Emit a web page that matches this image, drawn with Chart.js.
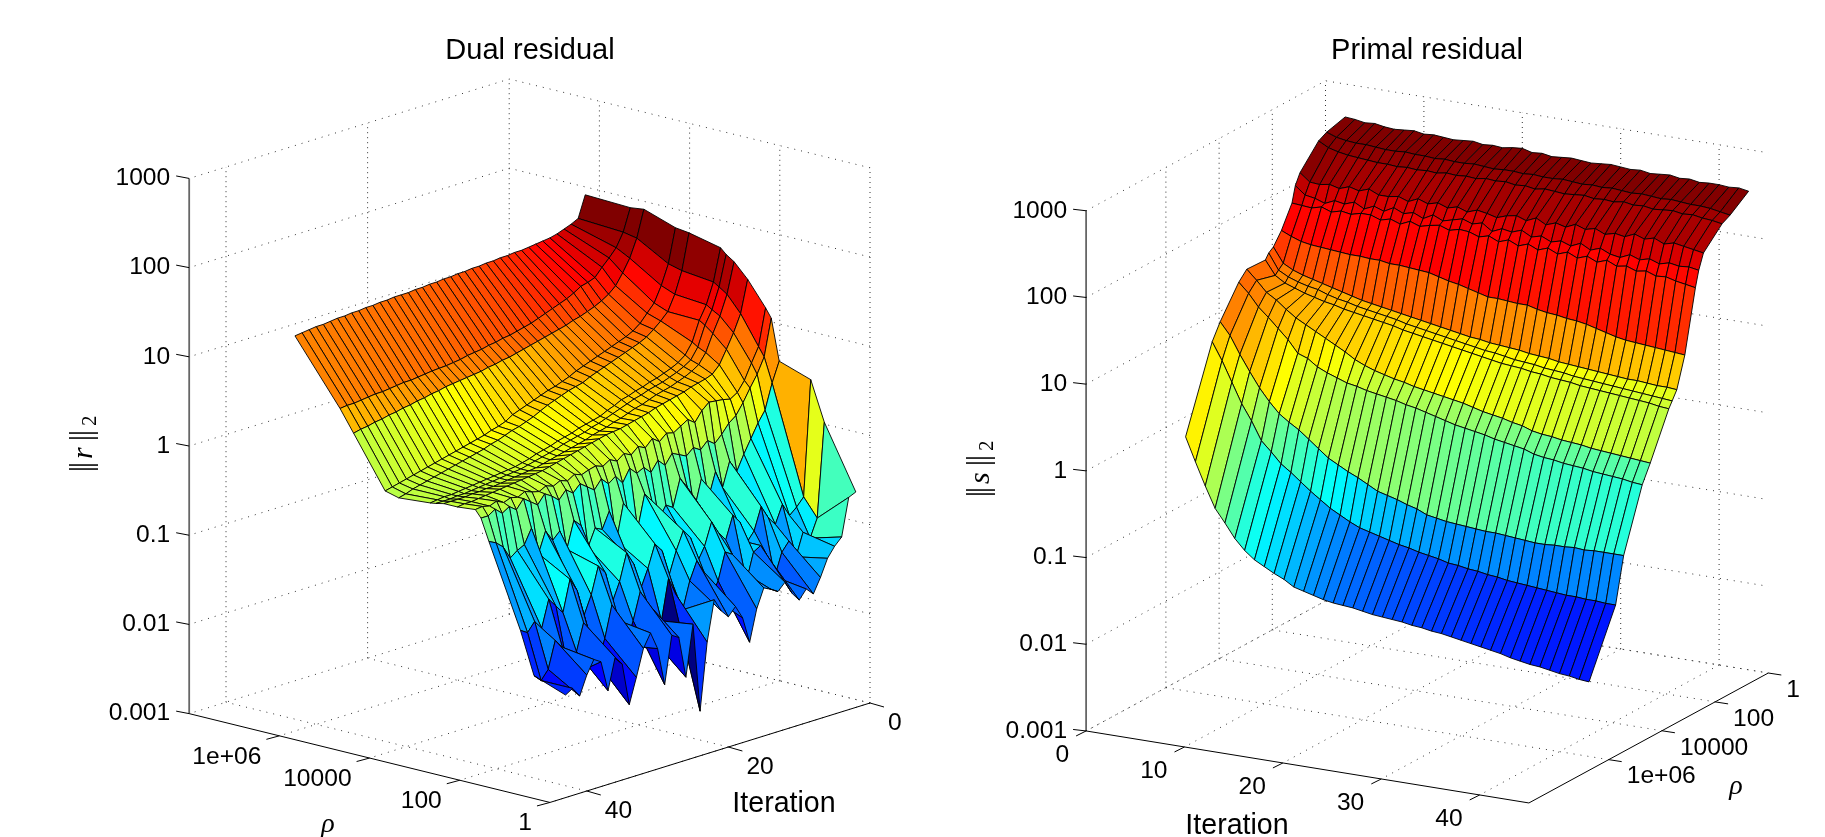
<!DOCTYPE html>
<html>
<head>
<meta charset="utf-8">
<title>Dual and primal residual</title>
<script src="https://cdn.jsdelivr.net/npm/chart.js@4/dist/chart.umd.min.js"></script>
<style>
  html, body { margin: 0; padding: 0; background: #fff; overflow: hidden; width: 1825px; height: 837px; }
  canvas { position: absolute; top: 0; }
</style>
</head>
<body>
<canvas id="dualChart" style="left:0"></canvas>
<canvas id="primalChart" style="left:950px"></canvas>
<script>
// axes
const iterations = [2,3,4,5,6,7,8,9,10,11,12,13,14,15,16,17,18,19,20,21,22,23,24,25,26,27,28,29,30,31,32,33,34,35,36,37,38,39,40,41,42,43];
const rhoValues = [1,5,10,50,75,100,250,500,750,1000,5000,10000,50000,100000,1000000];
const zTicks = [0.001,0.01,0.1,1,10,100,1000];
const zTickLabels = ["0.001","0.01","0.1","1","10","100","1000"];
const rhoTicks = [1,100,10000,1000000];
const rhoTickLabels = ["1","100","10000","1e+06"];
const dualIterTicks = [0,20,40];
const primalIterTicks = [0,10,20,30,40];

// dual residual, log10 of ||r||2, one list per rho, one value per iteration
const dualRho1 = [-.585,-.62,-1.04,-1.12,-1.23,-1.42,-1.58,-1.5,-1.6,-1.5,-1.35,-1.43,-1.38,-1.34,
  -1.55,-1.9,-1.6,-1.45,-1.54,-1.45,-1.3,-1.75,-2.5,-1.5,-2.07,-1.6,-1.55,-2.08,
  -1.65,-1.45,-1.6,-1.9,-2.18,-1.7,-1.6,-1.95,-1.6,-1.55,-1.7,-1.91,-1.8,-1.85];
const dualRho5 = [.11,-.94,-1.14,-1.05,-1.3,-1.1,-1.2,-1.45,-1.2,-1.05,-1.1,-1.4,-1.25,-1.05,
  -1.0,-1.3,-1.45,-1.15,-1.0,-1.2,-1.5,-1.3,-1.1,-1.55,-1.75,-1.3,-1.15,-1.45,
  -1.7,-1.4,-1.2,-1.55,-1.8,-1.5,-1.3,-1.6,-1.85,-1.5,-1.4,-1.7,-1.8,-1.72];
const dualRho10 = [.55,-.74,-.83,-.9,-.75,-.95,-.85,-.7,-.95,-1.05,-.8,-.7,-.95,-.85,
  -.7,-.95,-1.1,-.8,-.7,-.9,-1.15,-.85,-.75,-1.0,-1.2,-.9,-.75,-1.05,
  -1.25,-.9,-.8,-1.1,-1.3,-1.0,-.85,-1.2,-1.1,-1.0,-1.3,-1.2,-1.3,-1.25];
const dualRho50 = [.67,.45,.17,.05,-.1,-.25,-.42,-.28,-.55,-.35,-.62,-.38,-.7,-.42,
  -.3,-.6,-.55,-.68,-.45,-.35,-.72,-.68,-.38,-.78,-.42,-.6,-.56,-.75,
  -.48,-.4,-.7,-.47,-.55,-.42,-.65,-.34,-.5,-.54,-.6,-.45,-.38,-.34];
const dualRho75 = [1.13,.72,.55,.42,.28,.16,.10,.0,-.08,-.02,-.10,-.05,-.12,-.08,
  -.04,-.15,-.07,-.18,-.10,-.14,-.06,-.2,-.1,-.16,-.08,-.18,-.12,-.06,
  -.14,-.08,-.17,-.1,-.05,-.15,-.09,-.03,-.13,-.07,-.12,-.05,-.1,-.1];
const dualRho100 = [1.23,.82,.66,.49,.38,.33,.35,.36,.37,.30,.19,.25,.20,.15,
  .17,.10,.16,.08,.12,.05,.09,.03,.07,.02,.05,.03,.0,.03,
  -.02,.01,-.03,.0,-.04,-.02,.01,-.03,-.01,-.04,.0,-.03,-.01,-.02];
const dualRho250 = [1.50,1.14,.95,.79,.64,.56,.53,.51,.49,.46,.44,.42,.40,.38,
  .35,.33,.31,.29,.27,.26,.25,.23,.21,.19,.17,.15,.13,.11,
  .09,.07,.06,.05,.04,.03,.02,.01,.0,-.01,-.02,-.03,-.03,-.04];
const dualRho500 = [1.66,1.32,1.10,.93,.74,.63,.58,.54,.51,.48,.46,.44,.41,.38,
  .36,.33,.30,.28,.25,.23,.21,.18,.16,.14,.12,.10,.08,.06,
  .04,.03,.02,.01,.0,-.01,-.02,-.02,-.03,-.03,-.04,-.04,-.04,-.04];
const dualRho750 = [1.72,1.38,1.15,1.0,.78,.66,.61,.57,.54,.51,.49,.47,.44,.42,
  .39,.36,.33,.30,.27,.25,.22,.20,.18,.16,.13,.11,.09,.07,
  .05,.03,.02,.01,.0,-.01,-.02,-.03,-.04,-.05,-.05,-.06,-.06,-.06];
const dualRho1000 = [1.78,1.42,1.19,1.04,.82,.70,.64,.60,.57,.54,.52,.49,.47,.44,
  .42,.38,.35,.31,.29,.27,.25,.22,.20,.18,.15,.13,.11,.08,
  .06,.04,.03,.02,.01,.0,-.01,-.02,-.03,-.04,-.05,-.05,-.06,-.07];
const dualRho5000 = [1.86,1.46,1.22,1.05,.97,.90,.84,.80,.77,.74,.71,.68,.65,.62,
  .59,.55,.53,.51,.48,.45,.42,.38,.34,.31,.28,.26,.23,.20,
  .18,.15,.13,.11,.09,.07,.05,.03,.01,-.01,-.03,-.05,-.08,-.10];
const dualRho10000 = [1.88,1.50,1.28,1.11,1.02,.93,.87,.83,.80,.77,.74,.71,.68,.65,
  .62,.58,.55,.52,.50,.47,.44,.41,.38,.35,.30,.27,.25,.22,
  .20,.18,.16,.14,.12,.10,.08,.06,.04,.02,.0,-.02,-.04,-.06];
const dualRho50000 = [2.0,1.70,1.50,1.36,1.24,1.17,1.12,1.08,1.05,1.02,1.0,.97,.95,.93,
  .91,.89,.87,.85,.83,.81,.80,.78,.77,.75,.74,.73,.72,.71,
  .70,.68,.67,.65,.64,.62,.61,.59,.58,.56,.55,.53,.52,.50];
const dualRho1e5 = [1.98,1.73,1.58,1.49,1.41,1.32,1.29,1.27,1.22,1.18,1.15,1.12,1.09,1.06,
  1.03,1.01,.99,.97,.96,.94,.93,.91,.90,.89,.87,.86,.85,.845,
  .84,.83,.82,.81,.81,.80,.79,.78,.78,.77,.76,.75,.75,.74];
const dualRho1e6 = [2.0,1.76,1.72,1.69,1.66,1.64,1.63,1.62,1.61,1.60,1.60,1.59,1.59,1.58,
  1.58,1.57,1.57,1.56,1.56,1.55,1.55,1.54,1.54,1.53,1.53,1.52,1.52,1.52,
  1.51,1.51,1.50,1.50,1.49,1.49,1.48,1.48,1.47,1.46,1.46,1.45,1.44,1.43];

// primal residual, log10 of ||s||2
const primalRho1 = [2.62,2.61,2.59,2.60,2.58,2.57,2.58,2.59,2.57,2.58,2.57,2.56,2.57,2.58,
  2.56,2.57,2.56,2.58,2.59,2.56,2.57,2.55,2.56,2.57,2.56,2.55,2.56,2.57,
  2.56,2.55,2.56,2.54,2.55,2.56,2.54,2.55,2.53,2.54,2.54,2.53,2.54,2.52];
const primalRho5 = [2.56,2.52,2.50,2.49,2.49,2.48,2.47,2.47,2.48,2.47,2.47,2.46,2.47,2.46,
  2.46,2.47,2.46,2.45,2.46,2.46,2.45,2.46,2.45,2.45,2.46,2.45,2.44,2.45,
  2.44,2.45,2.44,2.43,2.44,2.43,2.42,2.43,2.42,2.41,2.41,2.40,2.38,2.36];
const primalRho10 = [2.51,2.45,2.42,2.40,2.39,2.38,2.37,2.37,2.36,2.37,2.36,2.37,2.36,2.38,
  2.37,2.38,2.37,2.39,2.38,2.39,2.37,2.38,2.36,2.38,2.37,2.36,2.37,2.38,
  2.36,2.37,2.36,2.38,2.36,2.37,2.35,2.36,2.37,2.35,2.36,2.34,2.33,2.31];
const primalRho50 = [2.26,2.17,2.16,2.18,2.15,2.19,2.16,2.20,2.15,2.15,2.17,2.13,2.18,2.14,
  2.17,2.13,2.16,2.12,2.16,2.14,2.11,2.15,2.17,2.13,2.18,2.12,2.16,2.13,
  2.18,2.14,2.17,2.12,2.15,2.13,2.18,2.14,2.17,2.12,2.15,2.13,2.11,2.09];
const primalRho75 = [2.14,2.05,2.03,1.99,2.04,2.02,2.06,2.00,2.05,2.01,2.07,2.02,2.05,2.00,
  2.06,2.01,2.04,2.07,2.03,2.06,1.98,2.03,2.01,2.05,1.99,2.02,1.97,2.00,
  1.96,2.01,1.95,1.99,1.94,1.92,1.97,1.93,1.96,1.92,1.95,1.93,1.94,1.92];
const primalRho100 = [1.96,1.95,1.94,1.97,1.93,1.96,1.94,1.97,1.97,1.93,1.96,1.92,1.97,1.93,
  1.96,1.98,1.94,1.97,1.96,1.92,1.95,1.90,1.94,1.89,1.93,1.88,1.92,1.87,
  1.91,1.86,1.90,1.85,1.89,1.84,1.86,1.82,1.84,1.80,1.81,1.78,1.76,1.74];
const primalRho250 = [1.71,1.66,1.62,1.60,1.59,1.58,1.57,1.56,1.56,1.55,1.55,1.53,1.53,1.52,
  1.51,1.50,1.47,1.44,1.42,1.39,1.36,1.33,1.33,1.32,1.31,1.31,1.28,1.26,
  1.25,1.23,1.22,1.20,1.17,1.14,1.11,1.09,1.08,1.07,1.06,1.05,1.04,1.03];
const primalRho500 = [1.57,1.40,1.34,1.30,1.27,1.24,1.21,1.18,1.15,1.12,1.10,1.08,1.06,1.04,
  1.02,1.00,.98,.96,.94,.92,.90,.89,.87,.86,.85,.84,.82,.81,
  .80,.78,.77,.76,.75,.74,.73,.72,.71,.71,.70,.69,.69,.68];
const primalRho750 = [1.53,1.35,1.29,1.25,1.22,1.20,1.16,1.13,1.11,1.08,1.06,1.04,1.02,1.00,
  .97,.95,.93,.91,.89,.87,.85,.83,.81,.80,.78,.76,.75,.74,
  .72,.71,.70,.68,.67,.66,.65,.64,.63,.62,.61,.60,.59,.58];
const primalRho1000 = [1.47,1.31,1.24,1.20,1.16,1.13,1.10,1.08,1.05,1.03,1.01,.99,.97,.95,
  .92,.90,.88,.86,.84,.82,.80,.78,.76,.74,.72,.71,.70,.68,
  .67,.65,.64,.63,.61,.60,.59,.58,.57,.56,.55,.54,.52,.51];
const primalRho5000 = [1.48,1.37,1.25,1.18,1.09,1.01,.95,.89,.83,.77,.71,.64,.59,.55,
  .52,.49,.47,.44,.42,.40,.38,.36,.34,.31,.28,.26,.24,.21,
  .19,.15,.13,.12,.10,.09,.08,.06,.05,.04,.03,.02,.01,.00];
const primalRho10000 = [1.38,1.27,1.13,1.03,.92,.81,.67,.63,.55,.50,.46,.42,.40,.37,
  .35,.33,.31,.28,.26,.23,.20,.17,.14,.12,.10,.08,.05,.03,
  .01,-.01,-.05,-.07,-.08,-.10,-.11,-.12,-.14,-.15,-.16,-.17,-.19,-.20];
const primalRho50000 = [1.04,.90,.70,.52,.35,.21,.09,.01,-.06,-.15,-.24,-.33,-.39,-.45,
  -.50,-.56,-.62,-.65,-.68,-.72,-.75,-.80,-.82,-.84,-.85,-.86,-.87,-.88,
  -.88,-.89,-.90,-.91,-.92,-.92,-.91,-.91,-.90,-.91,-.90,-.90,-.90,-.90];
const primalRho1e5 = [.86,.66,.43,.20,.02,-.19,-.30,-.42,-.50,-.59,-.68,-.76,-.84,-.90,
  -.96,-1.01,-1.04,-1.07,-1.10,-1.13,-1.15,-1.18,-1.20,-1.22,-1.25,-1.26,-1.28,-1.29,
  -1.31,-1.32,-1.34,-1.35,-1.36,-1.37,-1.38,-1.39,-1.40,-1.40,-1.41,-1.41,-1.42,-1.42];
const primalRho1e6 = [-.07,-.34,-.60,-.84,-.99,-1.15,-1.27,-1.36,-1.42,-1.48,-1.53,-1.60,-1.63,-1.66,
  -1.69,-1.71,-1.72,-1.73,-1.75,-1.77,-1.78,-1.79,-1.80,-1.82,-1.83,-1.85,-1.86,-1.88,
  -1.90,-1.92,-1.94,-1.96,-1.98,-2.01,-2.03,-2.05,-2.06,-2.08,-2.10,-2.11,-2.13,-2.14];

const dualRows = [dualRho1,dualRho5,dualRho10,dualRho50,dualRho75,dualRho100,dualRho250,dualRho500,dualRho750,dualRho1000,dualRho5000,dualRho10000,dualRho50000,dualRho1e5,dualRho1e6];
const primalRows = [primalRho1,primalRho5,primalRho10,primalRho50,primalRho75,primalRho100,primalRho250,primalRho500,primalRho750,primalRho1000,primalRho5000,primalRho10000,primalRho50000,primalRho1e5,primalRho1e6];

const SANS = '"Liberation Sans", Arial, sans-serif';
const SERIF = '"Liberation Serif", serif';
const TITLE_H = 65; // title block height, y scale starts under it

// jet colormap
function jet(t) {
  t = Math.min(1, Math.max(0, t));
  const c = v => Math.round(255 * Math.min(1, Math.max(0, 1.5 - Math.abs(4 * t - v))));
  return `rgb(${c(3)},${c(2)},${c(1)})`;
}

// orthographic view of the 3D box, iter / log10(rho) / log10(z) to page pixels
function projector(v) {
  return (iter, r, z) => ({
    x: v.ox + iter * v.ix + r * v.rx,
    y: v.oy + iter * v.iy + r * v.ry - (z + 3) * v.zy
  });
}

function lineSet(points, color, width, dash) {
  return {
    data: points,
    borderColor: color,
    borderWidth: width,
    borderDash: dash || [],
    pointRadius: 0,
    fill: false,
    tension: 0,
    clip: false
  };
}

function buildPanel(v, rows, iterTicks) {
  const P = projector(v);
  const sets = [];
  const gridColor = "#333", dots = [1, 6];
  const zMax = 3, zMin = -3;

  // walls
  zTicks.forEach(t => {
    const z = Math.log10(t);
    sets.push(lineSet([P(0, v.wallFrom, z), P(0, v.wallRho, z), P(v.iterMax, v.wallRho, z)], gridColor, 1, dots));
  });
  iterTicks.forEach(t => {
    if (v.wallRho === 0 && t === 0) return;
    sets.push(lineSet([P(t, v.wallRho, zMin), P(t, v.wallRho, zMax)], gridColor, 1, [1, 4]));
  });
  rhoTicks.forEach(t => {
    const r = Math.log10(t);
    sets.push(lineSet([P(0, r, zMin), P(0, r, zMax)], gridColor, 1, [1, 4]));
  });
  // floor
  iterTicks.forEach(t => sets.push(lineSet([P(t, 0, zMin), P(t, v.rMax, zMin)], gridColor, 1, dots)));
  rhoTicks.forEach(t => {
    const r = Math.log10(t);
    sets.push(lineSet([P(0, r, zMin), P(v.iterMax, r, zMin)], gridColor, 1, dots));
  });

  // surface, back to front
  const rs = rhoValues.map(Math.log10);
  const order = v.backIsHighRho ? rs.map((_, k) => rs.length - 2 - k).slice(0, -1) : rs.slice(0, -1).map((_, k) => k);
  const z = (a, b) => rows[a][b];
  order.forEach(a => {
    for (let b = 0; b < iterations.length - 1; b++) {
      const i0 = iterations[b], i1 = iterations[b + 1];
      sets.push({
        data: [P(i0, rs[a], z(a, b)), P(i1, rs[a], z(a, b + 1)), P(i1, rs[a + 1], z(a + 1, b + 1)), P(i0, rs[a + 1], z(a + 1, b)), P(i0, rs[a], z(a, b))],
        borderColor: "#000",
        borderWidth: 0.9,
        backgroundColor: jet((z(a, b) - v.cMin) / (v.cMax - v.cMin)),
        fill: "shape",
        pointRadius: 0,
        tension: 0,
        clip: false
      });
    }
  });

  // axes and ticks
  sets.push(lineSet([P(v.zAxisIter, v.zAxisRho, zMin), P(v.zAxisIter, v.zAxisRho, zMax)], "rgba(0,0,0,0.6)", 1.8));
  sets.push(lineSet([P(0, v.iterAxisRho, zMin), P(v.iterMax, v.iterAxisRho, zMin)], "#000", 1));
  sets.push(lineSet([P(v.iterMax, 0, zMin), P(v.iterMax, v.rMax, zMin)], "#000", 1));
  const tick = (p, d) => sets.push(lineSet([p, { x: p.x + d[0], y: p.y + d[1] }], "#000", 1));
  zTicks.forEach(t => tick(P(v.zAxisIter, v.zAxisRho, Math.log10(t)), v.zTick));
  iterTicks.forEach(t => tick(P(t, v.iterAxisRho, zMin), v.iterTick));
  rhoTicks.forEach(t => tick(P(v.iterMax, Math.log10(t), zMin), v.rhoTick));

  return sets.reverse(); // Chart.js paints the last dataset first
}

function textPlugin(v, iterTicks, normLetter) {
  const P = projector(v);
  return {
    id: "boxText",
    afterDatasetsDraw(chart) {
      const { ctx, scales: { x, y } } = chart;
      const put = (txt, p, align, font) => {
        ctx.font = font;
        ctx.textAlign = align;
        ctx.textBaseline = "middle";
        ctx.fillStyle = "#000";
        ctx.fillText(txt, x.getPixelForValue(p.x), y.getPixelForValue(p.y));
      };
      ctx.save();
      const tf = `24.6px ${SANS}`;
      zTicks.forEach((t, k) => {
        const p = P(v.zAxisIter, v.zAxisRho, Math.log10(t));
        put(zTickLabels[k], { x: p.x - 19, y: p.y }, "right", tf);
      });
      iterTicks.forEach(t => {
        const p = P(t, v.iterAxisRho, -3);
        put(String(t), { x: p.x + v.iterLabel[0], y: p.y + v.iterLabel[1] }, v.iterAlign, tf);
      });
      rhoTicks.forEach((t, k) => {
        const p = P(v.iterMax, Math.log10(t), -3);
        put(rhoTickLabels[k], { x: p.x + v.rhoLabel[0], y: p.y + v.rhoLabel[1] }, v.rhoAlign, tf);
      });
      put("Iteration", v.iterName, "center", `28.6px ${SANS}`);
      put("\u03C1", v.rhoName, "center", `italic 28px ${SERIF}`);

      // rotated ||r||2, set like a math label
      ctx.translate(x.getPixelForValue(v.normName.x), y.getPixelForValue(v.normName.y));
      ctx.rotate(-Math.PI / 2);
      ctx.textAlign = "left";
      ctx.textBaseline = "alphabetic";
      const piece = (txt, font, cx, dy) => {
        ctx.font = font;
        ctx.fillText(txt, cx, dy);
      };
      const bar = `32px ${SERIF}`;
      piece("|", bar, -1.2, 4);
      piece("|", bar, 2.8, 4);
      piece(normLetter, `italic 30px ${SERIF}`, 12, 5);
      piece("|", bar, 29.8, 4);
      piece("|", bar, 34.8, 4);
      piece("2", `21px ${SERIF}`, 45, 9);
      ctx.restore();
    }
  };
}

function makeChart(id, title, left, width, v, rows, iterTicks, normLetter) {
  const canvas = document.getElementById(id);
  canvas.width = width;
  canvas.height = 837;
  new Chart(canvas, {
    type: "line",
    data: { datasets: buildPanel(v, rows, iterTicks) },
    plugins: [textPlugin(v, iterTicks, normLetter)],
    options: {
      responsive: false,
      animation: false,
      events: [],
      parsing: false,
      normalized: true,
      layout: { padding: 0 },
      scales: {
        x: { type: "linear", display: false, min: left, max: left + width },
        y: { type: "linear", display: false, reverse: true, min: TITLE_H, max: 837 }
      },
      plugins: {
        legend: { display: false },
        tooltip: { enabled: false },
        title: {
          display: true,
          text: title,
          color: "#000",
          font: { family: SANS, size: 29, weight: "normal", lineHeight: 1 },
          padding: { top: 36, bottom: 0 }
        }
      }
    }
  });
}

const dualView = {
  ox: 870, oy: 703, ix: -7.08, iy: 2.2, rx: -45.1, ry: -11.1, zy: 89.2,
  iterMax: 45.2, rMax: 8, wallRho: 8, wallFrom: 0, backIsHighRho: true,
  zAxisIter: 45.2, zAxisRho: 8, iterAxisRho: 0,
  cMin: -2.5, cMax: 1.85,
  zTick: [-13, -2.5], iterTick: [14, 4], rhoTick: [-13, 3.5],
  iterLabel: [18, 20], iterAlign: "left", rhoLabel: [-18, 21], rhoAlign: "right",
  iterName: { x: 784, y: 804 }, rhoName: { x: 328, y: 825 }, normName: { x: 87, y: 471 }
};
const primalView = {
  ox: 1325.5, oy: 601, ix: 9.84, iy: 1.6, rx: -26.6, ry: 14.44, zy: 86.7,
  iterMax: 45, rMax: 9, wallRho: 0, wallFrom: 9, backIsHighRho: false,
  zAxisIter: 0, zAxisRho: 9, iterAxisRho: 9,
  cMin: -2.1, cMax: 2.55,
  zTick: [-13, -1.5], iterTick: [-10, 5], rhoTick: [13, 2],
  iterLabel: [-17, 24], iterAlign: "right", rhoLabel: [18, 17], rhoAlign: "left",
  iterName: { x: 1237, y: 826 }, rhoName: { x: 1736, y: 787 }, normName: { x: 984, y: 496 }
};

makeChart("dualChart", "Dual residual", 0, 1060, dualView, dualRows, dualIterTicks, "r");
makeChart("primalChart", "Primal residual", 950, 954, primalView, primalRows, primalIterTicks, "s");
</script>
</body>
</html>
